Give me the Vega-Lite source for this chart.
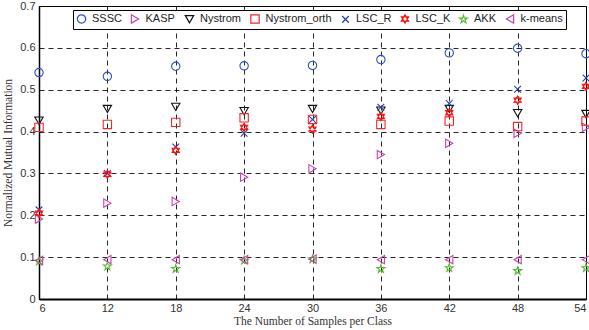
{
  "$schema": "https://vega.github.io/schema/vega-lite/v6.json",
  "width": 547,
  "height": 293,
  "autosize": "none",
  "padding": {"left": 39, "top": 6, "right": 3, "bottom": 31},
  "background": "white",
  "config": {
    "view": {"stroke": "black", "strokeWidth": 1},
    "axis": {
      "labelFont": "Liberation Sans",
      "labelFontSize": 11,
      "labelColor": "#333333",
      "titleFont": "Liberation Serif",
      "titleFontSize": 11.5,
      "titleFontWeight": "normal",
      "titleColor": "#333333",
      "grid": true,
      "gridColor": "black",
      "gridDash": [5, 4],
      "gridOpacity": 0.85,
      "ticks": false,
      "domainColor": "black"
    }
  },
  "data": {
    "values": [
      {"n": 6, "method": "SSSC", "nmi": 0.541},
      {"n": 12, "method": "SSSC", "nmi": 0.532},
      {"n": 18, "method": "SSSC", "nmi": 0.556},
      {"n": 24, "method": "SSSC", "nmi": 0.557},
      {"n": 30, "method": "SSSC", "nmi": 0.558},
      {"n": 36, "method": "SSSC", "nmi": 0.572},
      {"n": 42, "method": "SSSC", "nmi": 0.588},
      {"n": 48, "method": "SSSC", "nmi": 0.599},
      {"n": 54, "method": "SSSC", "nmi": 0.586},
      {"n": 6, "method": "KASP", "nmi": 0.191},
      {"n": 12, "method": "KASP", "nmi": 0.229},
      {"n": 18, "method": "KASP", "nmi": 0.233},
      {"n": 24, "method": "KASP", "nmi": 0.291},
      {"n": 30, "method": "KASP", "nmi": 0.311},
      {"n": 36, "method": "KASP", "nmi": 0.345},
      {"n": 42, "method": "KASP", "nmi": 0.372},
      {"n": 48, "method": "KASP", "nmi": 0.396},
      {"n": 54, "method": "KASP", "nmi": 0.410},
      {"n": 6, "method": "Nystrom", "nmi": 0.426},
      {"n": 12, "method": "Nystrom", "nmi": 0.454},
      {"n": 18, "method": "Nystrom", "nmi": 0.459},
      {"n": 24, "method": "Nystrom", "nmi": 0.449},
      {"n": 30, "method": "Nystrom", "nmi": 0.454},
      {"n": 36, "method": "Nystrom", "nmi": 0.450},
      {"n": 42, "method": "Nystrom", "nmi": 0.454},
      {"n": 48, "method": "Nystrom", "nmi": 0.444},
      {"n": 54, "method": "Nystrom", "nmi": 0.442},
      {"n": 6, "method": "Nystrom_orth", "nmi": 0.410},
      {"n": 12, "method": "Nystrom_orth", "nmi": 0.417},
      {"n": 18, "method": "Nystrom_orth", "nmi": 0.422},
      {"n": 24, "method": "Nystrom_orth", "nmi": 0.433},
      {"n": 30, "method": "Nystrom_orth", "nmi": 0.429},
      {"n": 36, "method": "Nystrom_orth", "nmi": 0.417},
      {"n": 42, "method": "Nystrom_orth", "nmi": 0.425},
      {"n": 48, "method": "Nystrom_orth", "nmi": 0.412},
      {"n": 54, "method": "Nystrom_orth", "nmi": 0.425},
      {"n": 6, "method": "LSC_R", "nmi": 0.213},
      {"n": 12, "method": "LSC_R", "nmi": 0.300},
      {"n": 18, "method": "LSC_R", "nmi": 0.363},
      {"n": 24, "method": "LSC_R", "nmi": 0.396},
      {"n": 30, "method": "LSC_R", "nmi": 0.429},
      {"n": 36, "method": "LSC_R", "nmi": 0.458},
      {"n": 42, "method": "LSC_R", "nmi": 0.467},
      {"n": 48, "method": "LSC_R", "nmi": 0.501},
      {"n": 54, "method": "LSC_R", "nmi": 0.528},
      {"n": 6, "method": "LSC_K", "nmi": 0.205},
      {"n": 12, "method": "LSC_K", "nmi": 0.298},
      {"n": 18, "method": "LSC_K", "nmi": 0.355},
      {"n": 24, "method": "LSC_K", "nmi": 0.410},
      {"n": 30, "method": "LSC_K", "nmi": 0.406},
      {"n": 36, "method": "LSC_K", "nmi": 0.436},
      {"n": 42, "method": "LSC_K", "nmi": 0.445},
      {"n": 48, "method": "LSC_K", "nmi": 0.475},
      {"n": 54, "method": "LSC_K", "nmi": 0.508},
      {"n": 6, "method": "AKK", "nmi": 0.090},
      {"n": 12, "method": "AKK", "nmi": 0.078},
      {"n": 18, "method": "AKK", "nmi": 0.072},
      {"n": 24, "method": "AKK", "nmi": 0.092},
      {"n": 30, "method": "AKK", "nmi": 0.095},
      {"n": 36, "method": "AKK", "nmi": 0.072},
      {"n": 42, "method": "AKK", "nmi": 0.074},
      {"n": 48, "method": "AKK", "nmi": 0.067},
      {"n": 54, "method": "AKK", "nmi": 0.074},
      {"n": 6, "method": "k-means", "nmi": 0.092},
      {"n": 12, "method": "k-means", "nmi": 0.094},
      {"n": 18, "method": "k-means", "nmi": 0.094},
      {"n": 24, "method": "k-means", "nmi": 0.094},
      {"n": 30, "method": "k-means", "nmi": 0.095},
      {"n": 36, "method": "k-means", "nmi": 0.094},
      {"n": 42, "method": "k-means", "nmi": 0.094},
      {"n": 48, "method": "k-means", "nmi": 0.094},
      {"n": 54, "method": "k-means", "nmi": 0.094}
    ]
  },
  "mark": {"type": "point", "filled": false, "fill": "transparent", "strokeWidth": 1.1, "size": 70, "opacity": 1},
  "encoding": {
    "x": {
      "field": "n",
      "type": "quantitative",
      "scale": {"domain": [6, 54], "nice": false, "zero": false},
      "axis": {
        "values": [6, 12, 18, 24, 30, 36, 42, 48, 54],
        "title": "The Number of Samples per Class",
        "titlePadding": 2,
        "labelPadding": 3,
        "domainWidth": 2
      }
    },
    "y": {
      "field": "nmi",
      "type": "quantitative",
      "scale": {"domain": [0, 0.7], "nice": false},
      "axis": {
        "values": [0, 0.1, 0.2, 0.3, 0.4, 0.5, 0.6, 0.7],
        "labelExpr": "datum.value == 0 ? '0' : format(datum.value, '.1f')",
        "title": "Normalized Mutual Information",
        "titlePadding": 6,
        "labelPadding": 4,
        "domainWidth": 1.5
      }
    },
    "color": {
      "field": "method",
      "type": "nominal",
      "scale": {
        "domain": ["SSSC", "KASP", "Nystrom", "Nystrom_orth", "LSC_R", "LSC_K", "AKK", "k-means"],
        "range": ["#2f50c0", "#cc44aa", "#111111", "#ee2a2a", "#2240a8", "#ff1010", "#55bb33", "#cc44aa"]
      },
      "legend": {
        "orient": "none",
        "legendX": 34,
        "legendY": 4,
        "direction": "horizontal",
        "title": null,
        "strokeColor": "black",
        "fillColor": "white",
        "padding": 3,
        "columnPadding": 6.5,
        "labelOffset": 5,
        "labelFont": "Liberation Sans",
        "labelFontSize": 11,
        "labelColor": "#222222",
        "symbolSize": 70,
        "symbolStrokeWidth": 1.2,
        "symbolFillColor": "transparent"
      }
    },
    "shape": {
      "field": "method",
      "type": "nominal",
      "scale": {
        "domain": ["SSSC", "KASP", "Nystrom", "Nystrom_orth", "LSC_R", "LSC_K", "AKK", "k-means"],
        "range": [
          "circle",
          "triangle-right",
          "triangle-down",
          "square",
          "M-0.8,-0.8L0.8,0.8M-0.8,0.8L0.8,-0.8",
          "M0,-1L0.87,0.5L-0.87,0.5Z M0,1L0.87,-0.5L-0.87,-0.5Z",
          "M0,-1L0.224,-0.309L0.951,-0.309L0.363,0.118L0.588,0.809L0,0.382L-0.588,0.809L-0.363,0.118L-0.951,-0.309L-0.224,-0.309Z",
          "triangle-left"
        ]
      }
    }
  }
}
